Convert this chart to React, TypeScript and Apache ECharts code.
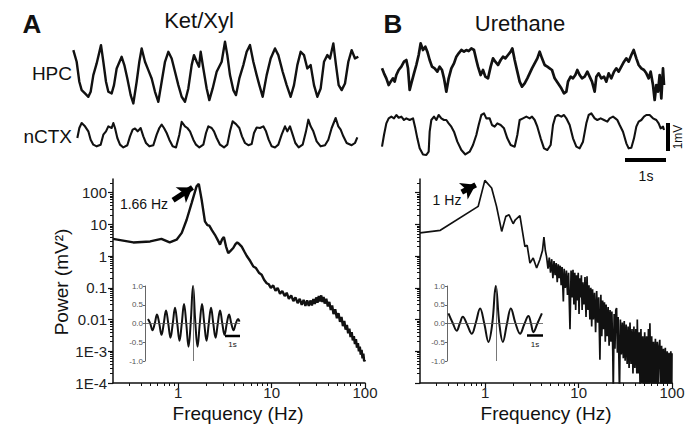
import { useEffect, useRef } from "react";
import * as echarts from "echarts";

// ---------- raw traces (sample index at FS Hz, amplitude in µV) ----------
const FS = 120;
const HPC_A: number[][] = [[10,800],[20,380],[28,-340],[35,-640],[45,-760],[55,-880],[62,-700],[70,-100],[80,320],[93,980],[100,380],[108,-340],[115,-700],[125,-760],[132,-460],[140,140],[155,560],[163,260],[172,-220],[182,-820],[190,-1120],[200,-340],[208,380],[215,860],[225,380],[235,80],[245,-220],[255,-700],[265,-1060],[275,-340],[285,380],[295,740],[305,500],[315,20],[325,-460],[335,-880],[345,-1060],[355,-580],[365,260],[372,620],[380,380],[387,200],[392,740],[400,140],[410,-580],[418,-1000],[428,-580],[440,20],[455,380],[465,1100],[472,620],[480,-100],[490,-640],[498,-820],[508,-220],[520,260],[530,740],[540,980],[550,380],[560,-100],[568,-460],[578,-880],[590,-100],[602,500],[615,860],[625,620],[638,20],[650,-460],[662,-880],[672,-460],[682,260],[692,740],[702,620],[712,140],[722,260],[732,-460],[742,-880],[752,-580],[762,380],[772,620],[780,500],[790,1040],[798,260],[806,-460],[815,-640],[825,-400],[835,380],[845,800],[855,500],[865,560]];
const NCTX_A: number[][] = [[22,-120],[28,240],[35,420],[45,300],[55,120],[62,-180],[70,-360],[80,-420],[92,-360],[100,0],[108,120],[115,300],[125,240],[130,420],[135,240],[142,-120],[150,-360],[160,-460],[172,-380],[180,-60],[188,180],[195,220],[203,120],[212,240],[220,-60],[228,-300],[238,-420],[250,-380],[260,0],[268,240],[275,360],[282,240],[290,60],[298,-180],[308,-420],[318,-460],[328,0],[335,460],[345,300],[352,240],[360,120],[370,-180],[378,-360],[388,-460],[400,-360],[408,60],[415,300],[425,240],[432,120],[440,-120],[450,-360],[462,-460],[472,-360],[480,120],[488,480],[498,380],[508,240],[516,-60],[525,-300],[535,-380],[545,-340],[552,60],[560,260],[570,240],[580,300],[588,120],[596,-180],[605,-420],[615,-460],[625,-360],[635,0],[645,300],[652,120],[660,300],[668,0],[676,-300],[686,-460],[698,-360],[708,120],[715,540],[722,300],[730,120],[740,-240],[752,-420],[765,-380],[775,-180],[785,240],[797,600],[805,300],[812,180],[820,-60],[830,-300],[845,-380],[855,-300],[862,-100]];
const HPC_B: number[][] = [[12,120],[18,-60],[25,-240],[32,-480],[38,-360],[45,-240],[50,-360],[55,-120],[62,60],[70,180],[78,360],[85,420],[90,120],[95,-660],[100,-420],[108,-60],[115,240],[122,600],[128,1020],[135,780],[142,900],[148,720],[155,420],[162,180],[170,120],[178,0],[185,180],[192,60],[198,-240],[205,-720],[212,-240],[220,120],[228,300],[235,540],[242,660],[250,780],[258,720],[265,780],[272,740],[280,840],[288,780],[295,420],[300,180],[308,-120],[315,60],[322,-180],[330,-240],[338,180],[345,480],[352,360],[360,240],[368,420],[375,540],[382,480],[390,600],[398,720],[403,840],[410,420],[418,0],[425,-360],[432,-540],[440,-420],[448,-240],[455,-60],[462,120],[470,300],[478,480],[485,720],[492,480],[500,240],[508,180],[515,120],[522,60],[530,-240],[540,-420],[550,-600],[558,-780],[565,-720],[570,-360],[578,-180],[585,-240],[592,-120],[598,60],[605,-120],[612,-240],[620,-180],[628,0],[635,-180],[642,-360],[650,-720],[655,-180],[662,-60],[670,-240],[678,-180],[685,-360],[692,-60],[700,-240],[708,0],[715,120],[722,0],[730,180],[738,360],[745,480],[752,360],[760,600],[767,780],[775,480],[782,240],[790,120],[798,60],[805,-60],[812,-240],[818,0],[825,-480],[830,-1020],[835,-480],[840,-720],[845,-120],[850,-960],[855,120],[858,-480]];
const NCTX_B: number[][] = [[12,-420],[18,0],[25,420],[32,600],[40,660],[48,600],[55,720],[62,620],[70,660],[78,540],[85,600],[95,540],[105,600],[112,240],[118,-120],[125,-480],[135,-700],[145,-720],[152,-600],[155,120],[160,540],[168,660],[175,540],[182,720],[190,600],[198,540],[205,540],[212,420],[220,300],[228,120],[238,-240],[250,-540],[262,-700],[275,-600],[285,-360],[295,0],[302,360],[310,720],[318,780],[325,600],[335,600],[342,360],[350,300],[358,420],[368,360],[378,240],[388,-120],[398,-360],[410,-420],[418,0],[425,540],[435,600],[445,660],[455,600],[462,660],[470,540],[478,300],[488,-120],[498,-480],[508,-540],[518,-360],[525,360],[532,660],[540,720],[550,660],[558,720],[565,600],[575,360],[585,-120],[595,-420],[605,-480],[615,-240],[625,420],[632,720],[640,780],[650,600],[658,540],[668,600],[678,540],[688,480],[695,600],[705,660],[712,600],[718,540],[725,360],[735,120],[745,-300],[752,-480],[760,-460],[768,-120],[775,300],[782,480],[790,540],[798,660],[805,720],[815,720],[825,600],[835,540],[842,420],[848,240],[855,300],[858,180]];

// ---------- power spectra [frequency Hz, power mV^2] ----------
const PSD_A: number[][] = [[0.2,3.5],[0.33,2.7],[0.5,2.9],[0.66,3.5],[0.81,2.7],[0.96,3.3],[1.09,5.4],[1.23,14],[1.39,47],[1.57,158],[1.66,190],[1.78,60],[1.93,12.4],[2.05,9.5],[2.15,9.1],[2.3,6.5],[2.47,4.7],[2.65,3.2],[2.8,2.3],[2.95,3.4],[3.08,4.0],[3.25,2.0],[3.43,1.25],[3.65,1.5],[3.88,1.8],[4.1,2.4],[4.28,2.7],[4.5,2.4],[4.78,2.0],[5.1,1.4],[5.4,1.03],[5.9,0.7],[6.37,0.47],[6.8,0.42],[7.3,0.3],[7.82,0.26],[8.3,0.18],[8.85,0.14],[9.3,0.13],[9.8,0.1],[10.4,0.12],[11,0.08],[11.6,0.1],[12.3,0.065],[13,0.08],[13.8,0.055],[14.5,0.07],[15.3,0.045],[16.2,0.058],[17.1,0.038],[18,0.05],[19,0.033],[20,0.045],[21,0.029],[22,0.042],[23,0.027],[24,0.04],[25,0.027],[26,0.04],[27,0.028],[28,0.044],[29,0.031],[30,0.05],[31,0.034],[32,0.055],[33,0.037],[34,0.058],[35,0.036],[36,0.052],[37,0.032],[38.5,0.045],[40,0.026],[41.5,0.036],[43,0.02],[44.5,0.028],[46,0.015],[48,0.021],[50,0.011],[52,0.016],[54,0.0085],[56,0.012],[58,0.0062],[60,0.009],[62,0.0048],[64,0.0068],[66,0.0037],[68,0.0052],[70,0.0028],[72,0.004],[74,0.0022],[76,0.003],[78,0.0017],[80,0.0024],[82,0.0013],[84,0.0018],[86,0.001],[88,0.0014],[90,0.00078],[92,0.0011],[94,0.0006],[96,0.00085],[98,0.00048],[100,0.00055]];
const PSD_B: number[][] = [[0.2,5.4],[0.33,6.5],[0.84,37],[0.99,245],[1.17,140],[1.32,37],[1.5,6.0],[1.66,17.9],[1.8,20],[1.99,10.5],[2.1,14],[2.35,18.8],[2.66,2.0],[2.81,2.2],[3.01,0.6],[3.26,0.87],[3.55,0.42],[3.84,0.77],[4.1,1.5],[4.25,4.0],[4.4,1.5],[4.53,0.98],[4.7,0.4],[4.85,0.9],[5.0,0.3],[5.15,0.8],[5.3,0.2],[5.45,0.7],[5.6,0.25],[5.75,0.6],[5.9,0.15],[6.05,0.55],[6.2,0.2],[6.35,0.5],[6.5,0.12],[6.65,0.45],[6.86,0.037],[7.0,0.4],[7.2,0.1],[7.4,0.35],[7.6,0.06],[7.8,0.3],[8.08,0.005],[8.3,0.35],[8.5,0.05],[8.7,0.37],[8.9,0.03],[9.1,0.3],[9.3,0.02],[9.5,0.25],[9.7,0.04],[9.9,0.3],[10.1,0.015],[10.3,0.2],[10.5,0.05],[10.7,0.25],[10.9,0.02],[11.1,0.15],[11.4,0.03],[11.7,0.22],[12.0,0.012],[12.3,0.23],[12.6,0.02],[12.9,0.12],[13.2,0.01],[13.5,0.1],[13.8,0.006],[14.1,0.09],[14.4,0.01],[14.8,0.07],[15.2,0.004],[15.6,0.08],[16.0,0.008],[16.4,0.05],[16.9,0.00054],[17.3,0.06],[17.7,0.003],[18.1,0.04],[18.5,0.005],[18.9,0.035],[19.3,0.002],[19.7,0.03],[20.2,0.003],[20.7,0.025],[21.2,0.0015],[21.7,0.02],[22.2,0.002],[22.7,0.018],[23.2,0.001],[23.5,0.00005],[24.0,0.015],[24.5,0.0012],[25.0,0.02],[25.5,0.023],[26.0,0.0009],[26.5,0.012],[27.4,0.00005],[28.0,0.01],[28.7,0.0008],[29.4,0.008],[30.1,0.0006],[30.8,0.009],[31.5,0.0005],[32.3,0.007],[33.1,0.0004],[33.9,0.006],[34.7,0.0003],[35.5,0.008],[36.4,0.0004],[37.3,0.005],[38.2,0.0002],[39.1,0.006],[40.0,0.0003],[41.0,0.005],[42.0,0.0002],[42.5,0.01],[43.5,0.0002],[44.5,0.004],[45.5,0.00008],[46.5,0.005],[47.6,0.0001],[48.7,0.003],[49.8,0.00006],[51.0,0.004],[52.2,0.00008],[53.4,0.003],[54.6,0.00005],[55.9,0.005],[57.2,0.00008],[58.0,0.0077],[59.3,0.0001],[60.6,0.003],[62.0,0.00005],[63.4,0.002],[64.9,0.00008],[66.4,0.0025],[67.9,0.00005],[69.5,0.002],[71.1,0.00007],[72.7,0.0015],[74.0,0.0023],[75.7,0.00005],[77.4,0.0015],[79.2,0.00006],[81.0,0.0012],[82.9,0.00005],[84.8,0.0013],[86.8,0.00006],[88.8,0.001],[90.8,0.00005],[92.9,0.0009],[95.0,0.00006],[97.2,0.001],[99.4,0.00005],[100,0.00087]];

// peak annotations: arrow [from, to] in [Hz, mV^2]
const ARROW_A = [[0.88, 58], [1.42, 146]];
const ARROW_B = [[0.56, 104], [0.79, 177]];

// ---------- autocorrelation insets [lag s, r] ----------
const AC_A: number[][] = [[-3.0,0.12],[-2.85,0],[-2.7,-0.18],[-2.55,0],[-2.4,0.24],[-2.25,0],[-2.1,-0.3],[-1.95,0],[-1.8,0.35],[-1.65,0],[-1.5,-0.38],[-1.35,0],[-1.2,0.42],[-1.05,0],[-0.9,-0.46],[-0.75,0],[-0.6,0.52],[-0.45,0],[-0.3,-0.62],[-0.15,0.05],[0,1.0],[0.15,0.05],[0.3,-0.62],[0.45,0],[0.6,0.52],[0.75,0],[0.9,-0.46],[1.05,0],[1.2,0.42],[1.35,0],[1.5,-0.38],[1.65,0],[1.8,0.35],[1.95,0],[2.1,-0.3],[2.25,0],[2.4,0.24],[2.55,0],[2.7,-0.18],[2.85,0],[3.0,0.12],[3.1,0.05]];
const AC_B: number[][] = [[-2.96,0.27],[-2.7,0.02],[-2.44,-0.19],[-2.25,0],[-2.06,0.18],[-1.8,-0.02],[-1.5,-0.27],[-1.25,0.02],[-0.98,0.4],[-0.72,0],[-0.46,-0.49],[-0.22,0],[0,1.0],[0.22,0],[0.44,-0.49],[0.7,0],[0.94,0.4],[1.22,0.02],[1.52,-0.27],[1.78,-0.02],[2.04,0.2],[2.2,0],[2.35,-0.23],[2.6,0],[2.88,0.27]];

// ---------- axis ticks ----------
const FREQ_MAJOR = [1, 10, 100];
const FREQ_MINOR = [0.3,0.4,0.5,0.6,0.7,0.8,0.9,2,3,4,5,6,7,8,9,20,30,40,50,60,70,80,90];
const POWER_MAJOR = [1e-4, 1e-3, 0.01, 0.1, 1, 10, 100];
const POWER_LABELS = ["1E-4", "1E-3", "0.01", "0.1", "1", "10", "100"];
const MANTISSA = [2,3,4,5,6,7,8,9];
const F_MIN = 0.2, F_MAX = 100, P_MIN = 1e-4, P_MAX = 270;

const FONT = '"Liberation Sans", Arial, Helvetica, sans-serif';
const L = Math.log10;

export default function App() {
  const ref = useRef<HTMLDivElement>(null);
  useEffect(() => {
    const chart = echarts.init(ref.current!, null, { renderer: "svg" });
    const powerMinor: number[] = [];
    POWER_MAJOR.forEach((d) => MANTISSA.forEach((m) => { if (d * m <= P_MAX) powerMinor.push(L(d * m)); }));

    const grids = [
      { left: 70, top: 35, width: 290, height: 75 },
      { left: 70, top: 108, width: 290, height: 50 },
      { left: 378, top: 35, width: 292, height: 75 },
      { left: 378, top: 105, width: 308, height: 80 },
      { left: 113, top: 179, width: 252, height: 204 },
      { left: 420, top: 179, width: 252, height: 204 },
      { left: 145, top: 286, width: 95, height: 75 },
      { left: 447, top: 286, width: 96, height: 75 },
    ].map((g) => ({ ...g, containLabel: false, outerBoundsMode: "none" }));

    const traceX = [870, 870, 876, 924];
    const traceY = [[-1356, 1344], [-840, 960], [-1380, 1320], [-1800, 1080]];
    const xAxis: any[] = [];
    const yAxis: any[] = [];
    for (let i = 0; i < 4; i++) {
      xAxis.push({ gridIndex: i, type: "value", min: 0, max: traceX[i] / FS, show: false });
      yAxis.push({ gridIndex: i, type: "value", min: traceY[i][0], max: traceY[i][1], show: false });
    }
    const axLine = { show: true, onZero: false, lineStyle: { color: "#111", width: 1.5 } };
    [4, 5].forEach((g) => {
      const showLab = g === 4;
      xAxis.push({
        gridIndex: g, type: "value", position: "bottom", min: L(F_MIN), max: L(F_MAX),
        axisLine: axLine, splitLine: { show: false },
        axisTick: { show: true, customValues: FREQ_MAJOR.map(L), length: 5, lineStyle: { color: "#111", width: 1.2 } },
        axisLabel: { show: true, customValues: FREQ_MAJOR.map(L), margin: 2, fontSize: 15, color: "#222", fontFamily: FONT,
          formatter: (v: number) => String(Math.round(Math.pow(10, v))) },
      });
      xAxis.push({
        gridIndex: g, type: "value", position: "bottom", min: L(F_MIN), max: L(F_MAX),
        axisLine: { show: false, onZero: false }, splitLine: { show: false }, axisLabel: { show: false },
        axisTick: { show: true, customValues: FREQ_MINOR.map(L), length: 3, lineStyle: { color: "#111", width: 1 } },
      });
      yAxis.push({
        gridIndex: g, type: "value", position: "left", min: L(P_MIN), max: L(P_MAX),
        axisLine: axLine, splitLine: { show: false },
        axisTick: { show: true, customValues: POWER_MAJOR.map(L), length: 5, lineStyle: { color: "#111", width: 1.2 } },
        axisLabel: { show: showLab, customValues: POWER_MAJOR.map(L), margin: 6, fontSize: 15, color: "#222", fontFamily: FONT,
          formatter: (v: number) => POWER_LABELS[Math.round(v) + 4] },
      });
      yAxis.push({
        gridIndex: g, type: "value", position: "left", min: L(P_MIN), max: L(P_MAX),
        axisLine: { show: false, onZero: false }, splitLine: { show: false }, axisLabel: { show: false },
        axisTick: { show: true, customValues: powerMinor, length: 3, lineStyle: { color: "#111", width: 1 } },
      });
    });
    const insetX = [[-3.2, 3.13], [-3.05, 2.95]];
    [6, 7].forEach((g, k) => {
      xAxis.push({ gridIndex: g, type: "value", min: insetX[k][0], max: insetX[k][1], show: false });
      yAxis.push({
        gridIndex: g, type: "value", min: -1, max: 1, interval: 0.5,
        axisLine: { show: true, onZero: false, lineStyle: { color: "#666", width: 1 } },
        axisTick: { show: true, length: 2, lineStyle: { color: "#666" } },
        axisLabel: { show: true, fontSize: 8, color: "#555", margin: 2, fontFamily: FONT, formatter: (v: number) => v.toFixed(1) },
        splitLine: { show: false },
      });
    });

    const traceWidths = [2.4, 2.1, 2.7, 2.1];
    const traceSeries = [HPC_A, NCTX_A, HPC_B, NCTX_B].map((d, i) => ({
      type: "line", xAxisIndex: i, yAxisIndex: i, symbol: "none", silent: true,
      lineStyle: { color: "#111", width: traceWidths[i], join: "round" },
      data: d.map(([s, v]) => [s / FS, v]),
    }));
    const arrowLine = (a: number[][]) => ({
      silent: true, symbol: ["none", "arrow"], symbolSize: [14, 14], label: { show: false },
      lineStyle: { color: "#000", width: 5.5, type: "solid" },
      data: [[{ coord: [L(a[0][0]), L(a[0][1])] }, { coord: [L(a[1][0]), L(a[1][1])] }]],
    });
    const psdSeries = [PSD_A, PSD_B].map((d, k) => ({
      type: "line", xAxisIndex: 4 + k * 2, yAxisIndex: 4 + k * 2, symbol: "none", silent: true,
      lineStyle: { color: "#111", width: k === 0 ? 2.4 : 1.7 },
      data: d.map(([f, p]) => [L(f), L(p)]),
      markLine: arrowLine(k === 0 ? ARROW_A : ARROW_B),
    }));
    const insetSeries = [AC_A, AC_B].map((d, k) => ({
      type: "line", xAxisIndex: 8 + k, yAxisIndex: 8 + k, symbol: "none", silent: true, smooth: 0.4,
      lineStyle: { color: "#111", width: 2 },
      data: d,
      markLine: {
        silent: true, symbol: ["none", "none"], label: { show: false },
        lineStyle: { color: "#555", width: 0.8, type: "solid" },
        data: [{ yAxis: 0 }, { xAxis: 0 }],
      },
    }));

    const t = (x: number, y: number, text: string, font: string, extra: any = {}) => ({
      type: "text", x, y, ...extra,
      style: { text, font: `${font} ${FONT}`, fill: "#111", align: "center", verticalAlign: "middle", ...(extra.style || {}) },
    });
    const bar = (x1: number, y1: number, x2: number, y2: number, w: number) => ({
      type: "line", shape: { x1, y1, x2, y2 }, style: { stroke: "#000", lineWidth: w },
    });

    chart.setOption({
      animation: false,
      backgroundColor: "#fff",
      textStyle: { fontFamily: FONT },
      grid: grids,
      xAxis,
      yAxis,
      series: [...traceSeries, ...psdSeries, ...insetSeries],
      graphic: [
        t(32, 24, "A", "bold 26px"),
        t(199, 20, "Ket/Xyl", "22px"),
        t(393, 24, "B", "bold 26px"),
        t(520, 23.5, "Urethane", "22px"),
        t(72, 73, "HPC", "19px", { style: { align: "right" } }),
        t(72, 136, "nCTX", "19px", { style: { align: "right" } }),
        bar(668, 123, 668, 151, 4),
        bar(625, 160, 666, 160, 4),
        t(646, 176, "1s", "14px"),
        t(678, 137, "1mV", "12px", { rotation: Math.PI / 2 }),
        t(61, 282, "Power (mV²)", "19px", { rotation: Math.PI / 2 }),
        t(238, 413, "Frequency (Hz)", "19px"),
        t(546, 413, "Frequency (Hz)", "19px"),
        t(144, 204, "1.66 Hz", "14px"),
        t(447, 200, "1 Hz", "14px"),
        bar(225, 336, 240, 336, 2.5),
        t(232.5, 344, "1s", "8px"),
        bar(527, 335.5, 543, 335.5, 2.5),
        t(535, 344, "1s", "8px"),
      ],
    });
    return () => chart.dispose();
  }, []);
  return <div ref={ref} style={{ position: "absolute", left: 0, top: 0, width: 686, height: 427, background: "#fff" }} />;
}
